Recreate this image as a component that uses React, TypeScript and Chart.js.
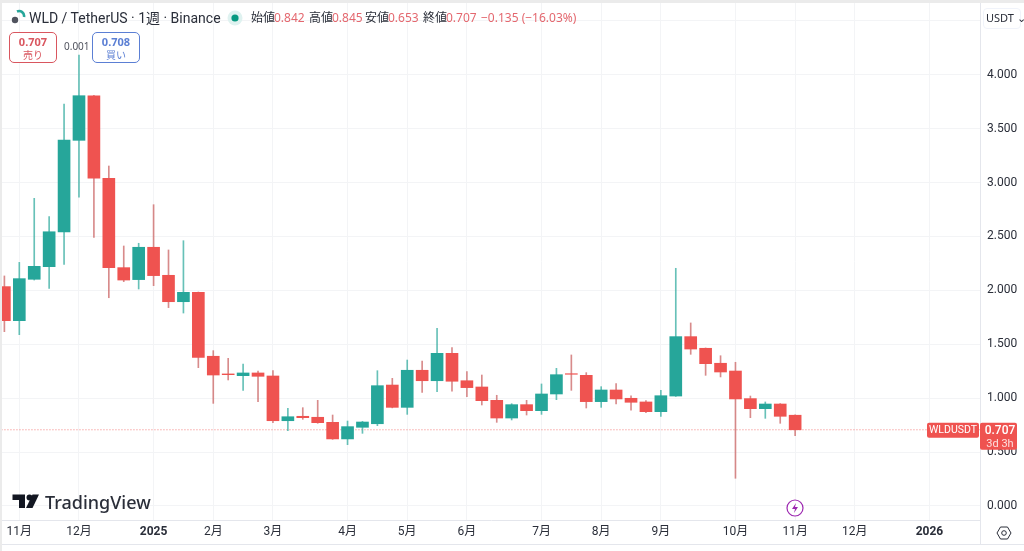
import { useEffect, useRef } from "react"
import { Chart, registerables } from "chart.js"

Chart.register(...registerables)

const opens = [
  2.035, 1.719, 2.103, 2.22, 2.542, 3.392, 3.806, 3.04, 2.211, 2.1, 2.4, 2.14, 1.895, 1.982, 1.389, 1.225, 1.209, 1.234,
  1.206, 0.791, 0.832, 0.823, 0.776, 0.622, 0.73, 0.763, 1.122, 0.915, 1.259, 1.162, 1.416, 1.162, 1.104, 0.98, 0.816,
  0.94, 0.884, 1.039, 1.227, 1.212, 0.968, 1.076, 0.999, 0.965, 0.875, 1.02, 1.571, 1.463, 1.324, 1.252, 0.996, 0.903,
  0.946, 0.842,
]
const closes = [
  1.719, 2.109, 2.223, 2.544, 3.395, 3.806, 3.04, 2.211, 2.096, 2.4, 2.137, 1.895, 1.982, 1.379, 1.215, 1.218, 1.234,
  1.203, 0.791, 0.828, 0.819, 0.773, 0.622, 0.736, 0.779, 1.116, 0.915, 1.259, 1.162, 1.416, 1.157, 1.098, 0.977, 0.816,
  0.94, 0.884, 1.039, 1.218, 1.222, 0.968, 1.076, 0.993, 0.962, 0.875, 1.023, 1.571, 1.456, 1.32, 1.243, 0.993, 0.903,
  0.946, 0.832, 0.707,
]
const highs = [
  2.134, 2.26, 2.854, 2.684, 3.729, 4.184, 3.81, 3.154, 2.412, 2.437, 2.795, 2.375, 2.461, 1.985, 1.441, 1.37, 1.317,
  1.252, 1.255, 0.906, 0.912, 0.98, 0.844, 0.788, 0.785, 1.255, 1.184, 1.354, 1.345, 1.648, 1.469, 1.246, 1.215, 1.027,
  0.949, 0.98, 1.132, 1.277, 1.401, 1.237, 1.107, 1.135, 1.023, 0.977, 1.073, 2.205, 1.698, 1.466, 1.394, 1.333, 1.02,
  0.965, 0.95, 0.845,
]
const lows = [
  1.617, 1.589, 2.096, 2.019, 2.242, 2.864, 2.492, 1.932, 2.081, 2.013, 2.044, 1.84, 1.79, 1.283, 0.952, 1.169, 1.073,
  0.968, 0.773, 0.698, 0.804, 0.767, 0.618, 0.569, 0.674, 0.745, 0.91, 0.85, 1.054, 1.06, 1.064, 1.014, 0.937, 0.776,
  0.798, 0.844, 0.85, 0.986, 1.073, 0.909, 0.915, 0.946, 0.888, 0.866, 0.832, 1.016, 1.407, 1.212, 1.197, 0.257, 0.819,
  0.813, 0.767, 0.653,
]
const monthWeeks = [1, 5, 10, 14, 18, 23, 27, 31, 36, 40, 44, 49, 53, 57, 62]
const monthLabels = ["11月", "12月", "2025", "2月", "3月", "4月", "5月", "6月", "7月", "8月", "9月", "10月", "11月", "12月", "2026"]
const lastClose = 0.707
const symbol = "WLDUSDT"
const countdown = "3d 3h"

const UP = "#26a69a"
const DOWN = "#ef5350"
const TEXT = "#2a2e39"
const GRID = "#f3f4f6"
const LINE = "#e4e6ec"
const FONT = '"Noto Sans", "Noto Sans CJK JP", sans-serif'
const AXIS_FONT = 'Roboto, "Noto Sans CJK JP", sans-serif'

const isUp = (i: number) => closes[i] > opens[i]

// chart.js reserves half a label above and below the axes, the reference doesn't
const noScalePadding = (scale: any) => {
  scale.paddingTop = 0
  scale.paddingBottom = 0
  scale.paddingLeft = 0
  scale.paddingRight = 0
}

// price tag on the axis and the frame under the time scale
const frame = {
  id: "frame",
  afterDraw(chart: any) {
    const { ctx, chartArea, scales } = chart
    const y = scales.y.getPixelForValue(lastClose)
    const right = chartArea.right
    ctx.save()
    ctx.strokeStyle = LINE
    ctx.beginPath()
    ctx.moveTo(right + 0.5, chartArea.bottom)
    ctx.lineTo(right + 0.5, 544.5)
    ctx.moveTo(chartArea.left, 544.5)
    ctx.lineTo(chart.width, 544.5)
    ctx.stroke()

    ctx.fillStyle = DOWN
    ctx.beginPath()
    ctx.roundRect(right - 53, y - 7, 52, 15, 2)
    ctx.fill()
    ctx.beginPath()
    ctx.roundRect(right, y - 7, 37, 27, 2)
    ctx.fill()

    ctx.fillStyle = "#fff"
    ctx.textBaseline = "middle"
    ctx.textAlign = "center"
    ctx.font = `10.5px ${AXIS_FONT}`
    ctx.fillText(symbol, right - 27, y + 1)
    ctx.font = `500 12px ${AXIS_FONT}`
    ctx.fillText(lastClose.toFixed(3), right + 20, y + 1)
    ctx.fillStyle = "#fde0df"
    ctx.font = `11px ${AXIS_FONT}`
    ctx.fillText(countdown, right + 20, y + 14)
    ctx.restore()
  },
}

function Label({ x, y, color = TEXT, size = 12, weight = 400, family, children }: any) {
  return (
    <span
      style={{
        position: "absolute",
        left: x,
        top: y,
        color,
        fontSize: size,
        fontWeight: weight,
        fontFamily: family,
        lineHeight: `${size + 2}px`,
        whiteSpace: "nowrap",
      }}
    >
      {children}
    </span>
  )
}

function QuoteBox({ x, color, price, side }: any) {
  return (
    <div
      style={{
        position: "absolute",
        left: x,
        top: 32,
        width: 46,
        height: 29,
        border: `1px solid ${color}`,
        borderRadius: 5,
        textAlign: "center",
        color,
        background: "#fff",
      }}
    >
      <div style={{ fontSize: 11, fontWeight: 700, lineHeight: "15px", marginTop: 1 }}>{price}</div>
      <div style={{ fontSize: 10, lineHeight: "12px" }}>{side}</div>
    </div>
  )
}

export default function App() {
  const canvasRef = useRef<HTMLCanvasElement>(null)

  useEffect(() => {
    document.body.style.margin = "0"
    const ctx = canvasRef.current?.getContext("2d")
    if (!ctx) return

    const chart = new Chart(ctx, {
      type: "bar",
      data: {
        datasets: [
          {
            type: "line",
            data: [
              { x: -1, y: lastClose },
              { x: 66, y: lastClose },
            ],
            borderColor: "rgba(239, 83, 80, 0.75)",
            borderWidth: 1,
            borderDash: [1, 2],
            pointRadius: 0,
            order: 3,
          },
          {
            data: highs.map((h, i) => ({ x: i, y: [lows[i], h] })),
            backgroundColor: highs.map((_, i) => (isUp(i) ? "rgba(38, 166, 154, 0.7)" : "rgba(200, 90, 90, 0.7)")),
            barThickness: 1,
            grouped: false,
            order: 2,
          },
          {
            data: opens.map((o, i) => ({ x: i, y: [o, closes[i]] })),
            backgroundColor: opens.map((_, i) => (isUp(i) ? UP : DOWN)),
            barThickness: 12,
            grouped: false,
            order: 1,
          },
        ] as any,
      },
      options: {
        responsive: false,
        animation: false,
        layout: { padding: { left: 2, top: 3, right: 0, bottom: 7 } },
        plugins: { legend: { display: false }, tooltip: { enabled: false } },
        scales: {
          x: {
            type: "linear",
            offset: false,
            min: -0.16,
            max: 65.39,
            afterBuildTicks: (scale: any) => {
              scale.ticks = monthWeeks.map((value) => ({ value }))
            },
            afterFit: (scale: any) => {
              scale.height = 24
              noScalePadding(scale)
            },
            grid: { color: GRID, drawTicks: false, offset: false },
            border: { color: LINE },
            ticks: {
              autoSkip: false,
              maxRotation: 0,
              padding: 5,
              color: TEXT,
              font: (c: any) => ({
                family: AXIS_FONT,
                size: 12,
                weight: String(monthLabels[c.index]).startsWith("20") ? "bold" : "normal",
              }),
              callback: (_: any, i: number) => monthLabels[i],
            },
          },
          y: {
            position: "right",
            min: -0.13,
            max: 4.666,
            afterFit: (scale: any) => {
              scale.width = 44
              noScalePadding(scale)
            },
            grid: { color: GRID, drawTicks: false },
            border: { color: LINE },
            ticks: {
              stepSize: 0.5,
              includeBounds: false,
              padding: 7,
              color: TEXT,
              font: { family: AXIS_FONT, size: 12 },
              callback: (v: any) => Number(v).toFixed(3),
            },
          },
        },
      },
      plugins: [frame],
    })

    return () => {
      chart.destroy()
    }
  }, [])

  return (
    <div style={{ position: "relative", width: 1024, height: 551, overflow: "hidden", background: "#fff", fontFamily: FONT }}>
      <canvas ref={canvasRef} width={1024} height={551} style={{ display: "block" }}></canvas>
      <div style={{ position: "absolute", left: 0, top: 0, width: 1024, height: 3, background: "#ebebeb" }} />
      <div style={{ position: "absolute", left: 0, top: 0, width: 2, height: 551, background: "#ebebeb" }} />

      <svg style={{ position: "absolute", left: 11, top: 9 }} width="16" height="16" viewBox="0 0 16 16">
        <circle cx="4" cy="11" r="3.2" fill="#50535e" />
        <path d="M6 2.5 A5 5 0 0 1 13 8" fill="none" stroke="#26a69a" strokeWidth="2.6" />
      </svg>
      <Label x={29} y={10} size={14} family="Roboto, 'Noto Sans CJK JP'">WLD / TetherUS · 1週 · Binance</Label>
      <svg style={{ position: "absolute", left: 227, top: 10 }} width="16" height="16" viewBox="0 0 16 16">
        <circle cx="8" cy="8" r="7.5" fill="#dff2f0" />
        <circle cx="8" cy="8" r="3.6" fill="#089981" />
      </svg>
      <Label x={251} y={11}>始値</Label>
      <Label x={274} y={11} color="#e4686f">0.842</Label>
      <Label x={309} y={11}>高値</Label>
      <Label x={332} y={11} color="#e4686f">0.845</Label>
      <Label x={365} y={11}>安値</Label>
      <Label x={388} y={11} color="#e4686f">0.653</Label>
      <Label x={423} y={11}>終値</Label>
      <Label x={446} y={11} color="#e4686f">0.707</Label>
      <Label x={481} y={11} color="#e4686f">−0.135 (−16.03%)</Label>

      <QuoteBox x={9} color="#d9565f" price="0.707" side="売り" />
      <Label x={64} y={40} size={10} color="#50535e">0.001</Label>
      <QuoteBox x={92} color="#5b7fd4" price="0.708" side="買い" />

      <div
        style={{
          position: "absolute",
          left: 983,
          top: 8,
          width: 38,
          height: 21,
          border: "1px solid #f0f3fa",
          borderRadius: 4,
          boxSizing: "border-box",
          background: "#fff",
        }}
      />
      <Label x={986} y={11} size={11}>USDT ⌄</Label>

      <svg style={{ position: "absolute", left: 12, top: 494 }} width="28" height="15" viewBox="0 0 28 15">
        <path d="M0.5 0.5 H13 V14 H7 V6 H0.5 Z" fill="#131722" />
        <circle cx="17.5" cy="3.5" r="3" fill="#131722" />
        <path d="M20.5 0.5 H27 L20.5 14 H14 Z" fill="#131722" />
      </svg>
      <Label x={45} y={492} size={18} weight={500}>TradingView</Label>

      <svg style={{ position: "absolute", left: 786, top: 499 }} width="18" height="18" viewBox="0 0 18 18">
        <circle cx="9" cy="9" r="8" fill="#fff" stroke="#9c27b0" strokeWidth="1.2" />
        <path d="M10 4 L6 10 H9 L8 14 L12 8 H9 Z" fill="#9c27b0" />
      </svg>
      <svg style={{ position: "absolute", left: 995, top: 524 }} width="18" height="18" viewBox="0 0 18 18">
        <path d="M5.5 3 H12.5 L16 9 L12.5 15 H5.5 L2 9 Z" fill="none" stroke="#2a2e39" strokeWidth="1" />
        <circle cx="9" cy="9" r="2.3" fill="none" stroke="#2a2e39" strokeWidth="1" />
      </svg>
    </div>
  )
}
